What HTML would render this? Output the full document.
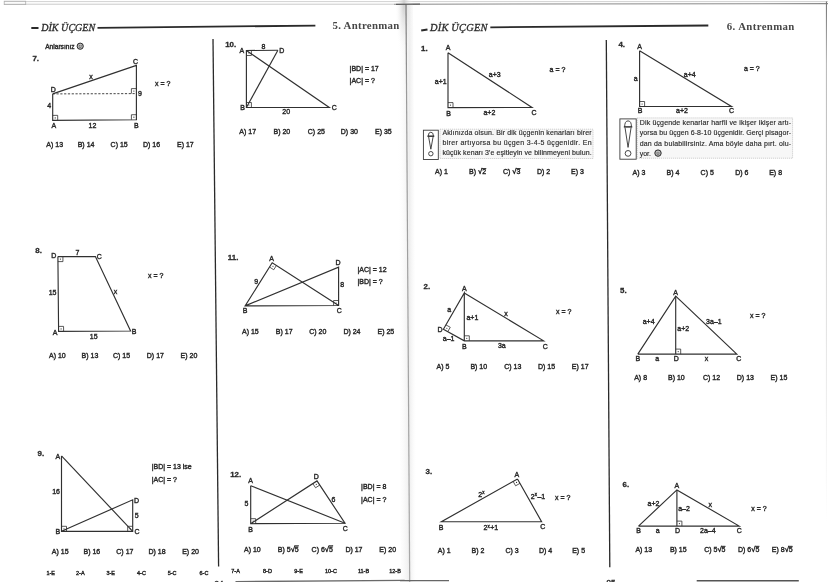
<!DOCTYPE html>
<html><head><meta charset="utf-8"><title>Dik Üçgen</title>
<style>
html,body{margin:0;padding:0;background:#fff;}
body{width:828px;height:582px;overflow:hidden;}
svg{display:block;filter:blur(0.3px);}
text{white-space:pre;}
</style></head>
<body>
<svg width="828" height="582" viewBox="0 0 828 582">
<rect x="0" y="0" width="828" height="582" fill="#ffffff"/>
<line x1="4" y1="1.6" x2="828" y2="1.6" stroke="#d2d2d2" stroke-width="1.0" />
<line x1="4" y1="4.2" x2="394" y2="4.2" stroke="#c4c4c4" stroke-width="0.9" />
<line x1="394" y1="4.2" x2="828" y2="3.6" stroke="#8a8a8a" stroke-width="1.1" />
<rect x="4.2" y="1.2" width="21.5" height="3.4" fill="none" stroke="#b0b0b0" stroke-width="0.8"/>
<defs><linearGradient id="fold" x1="0" x2="1" y1="0" y2="0"><stop offset="0" stop-color="#ffffff" stop-opacity="0"/><stop offset="0.62" stop-color="#ededed" stop-opacity="1"/><stop offset="1" stop-color="#ffffff" stop-opacity="0"/></linearGradient><linearGradient id="foldtop" x1="0" x2="0" y1="0" y2="1"><stop offset="0" stop-color="#cfcfcf" stop-opacity="1"/><stop offset="1" stop-color="#ffffff" stop-opacity="0"/></linearGradient></defs>
<polygon points="397,4 413,4 417,582 401,582" fill="url(#fold)"/>
<defs><radialGradient id="foldrad" cx="0.5" cy="0.5" r="0.5"><stop offset="0" stop-color="#c8c8c8" stop-opacity="0.9"/><stop offset="1" stop-color="#ffffff" stop-opacity="0"/></radialGradient><linearGradient id="foldline" x1="0" x2="0" y1="0" y2="1"><stop offset="0" stop-color="#777"/><stop offset="0.15" stop-color="#9a9a9a"/><stop offset="1" stop-color="#a8a8a8"/></linearGradient></defs>
<ellipse cx="404" cy="4" rx="9" ry="55" fill="url(#foldrad)"/>
<polygon points="405.4,4 406.6,4 410.3,582 409.1,582" fill="url(#foldline)"/>
<line x1="396" y1="4.3" x2="420" y2="4.1" stroke="#606060" stroke-width="1.3" />
<defs><linearGradient id="redge" x1="0" x2="0" y1="0" y2="1"><stop offset="0" stop-color="#777"/><stop offset="0.12" stop-color="#bbb"/><stop offset="0.6" stop-color="#e2e2e2"/><stop offset="1" stop-color="#fff"/></linearGradient></defs>
<rect x="825.9" y="1.5" width="1.1" height="520" fill="url(#redge)"/>
<line x1="31.3" y1="28" x2="38.5" y2="27.9" stroke="#2a2a2a" stroke-width="2" />
<text x="41.2" y="30.70" font-family="Liberation Serif" font-size="10" font-weight="normal" font-style="italic" text-anchor="start" fill="#2e2e2e" letter-spacing="0.05" stroke="#2e2e2e" stroke-width="0.32">DİK ÜÇGEN</text>
<line x1="97.5" y1="27.9" x2="315.4" y2="25.6" stroke="#2a2a2a" stroke-width="1.8" />
<text x="332.5" y="29.40" font-family="Liberation Serif" font-size="10.8" font-weight="bold" font-style="normal" text-anchor="start" fill="#474747" letter-spacing="0.3">5. Antrenman</text>
<line x1="421.2" y1="30.6" x2="427.5" y2="29.4" stroke="#2a2a2a" stroke-width="2" />
<text x="430.0" y="30.80" font-family="Liberation Serif" font-size="10.4" font-weight="normal" font-style="italic" text-anchor="start" fill="#2e2e2e" letter-spacing="0.22" stroke="#2e2e2e" stroke-width="0.32">DİK ÜÇGEN</text>
<line x1="490.3" y1="27.3" x2="708.3" y2="25.5" stroke="#2a2a2a" stroke-width="1.8" />
<text x="726.8" y="29.60" font-family="Liberation Serif" font-size="10.8" font-weight="bold" font-style="normal" text-anchor="start" fill="#474747" letter-spacing="0.38">6. Antrenman</text>
<line x1="213" y1="39" x2="218.6" y2="566.5" stroke="#2a2a2a" stroke-width="1.3" />
<line x1="606.3" y1="40" x2="609.8" y2="567.3" stroke="#2a2a2a" stroke-width="1.3" />
<line x1="235.5" y1="581.6" x2="404.6" y2="580.4" stroke="#6a6a6a" stroke-width="1.4" />
<line x1="400" y1="580.7" x2="449" y2="580.7" stroke="#666" stroke-width="1.2" />
<line x1="696.7" y1="580.7" x2="798.8" y2="580.7" stroke="#555" stroke-width="1.5" />
<text x="45.2" y="48.98" font-family="Liberation Sans" font-size="6.6" font-weight="normal" font-style="normal" text-anchor="start" fill="#2a2a2a" stroke="#2a2a2a" stroke-width="0.4">Anlarsınız</text>
<circle cx="80.2" cy="46.2" r="3.1" fill="#bbb" stroke="#2a2a2a" stroke-width="1.0"/>
<circle cx="79.3" cy="45.5" r="0.45" fill="#2a2a2a"/><circle cx="81.10000000000001" cy="45.5" r="0.45" fill="#2a2a2a"/>
<path d="M78.8,46.800000000000004 q1.4,1.3 2.8,0" fill="none" stroke="#2a2a2a" stroke-width="0.6"/>
<text x="32.4" y="61.34" font-family="Liberation Sans" font-size="7.9" font-weight="bold" font-style="normal" text-anchor="start" fill="#2a2a2a" stroke="#2a2a2a" stroke-width="0.3">7.</text>
<polyline points="52.7,93.9 52.7,120.4 136.4,119.7 136.4,65.4 52.7,93.9" fill="none" stroke="#303030" stroke-width="1.15" stroke-linejoin="miter"/>
<line x1="52.7" y1="93.9" x2="136.4" y2="93.6" stroke="#303030" stroke-width="0.9" stroke-dasharray="2.2,1.6"/>
<polyline points="52.7,115.4 57.69982515130651,115.35818545273699 57.69982515130651,120.35818545273699" fill="none" stroke="#303030" stroke-width="0.8" stroke-linejoin="miter"/>
<circle cx="55.20" cy="117.88" r="0.6" fill="#303030"/>
<polyline points="131.4001748486935,119.74181454726302 131.4001748486935,114.74181454726302 136.4,114.7" fill="none" stroke="#303030" stroke-width="0.8" stroke-linejoin="miter"/>
<circle cx="133.90" cy="117.22" r="0.6" fill="#303030"/>
<polyline points="131.40003211644137,93.61792103184071 131.40003211644137,88.61792103184071 136.4,88.6" fill="none" stroke="#303030" stroke-width="0.8" stroke-linejoin="miter"/>
<circle cx="133.90" cy="91.11" r="0.6" fill="#303030"/>
<text x="135.5" y="63.82" font-family="Liberation Sans" font-size="7" font-weight="normal" font-style="normal" text-anchor="middle" fill="#2a2a2a" stroke="#2a2a2a" stroke-width="0.4">C</text>
<text x="53.2" y="92.02" font-family="Liberation Sans" font-size="7" font-weight="normal" font-style="normal" text-anchor="middle" fill="#2a2a2a" stroke="#2a2a2a" stroke-width="0.4">D</text>
<text x="53.8" y="127.52" font-family="Liberation Sans" font-size="7" font-weight="normal" font-style="normal" text-anchor="middle" fill="#2a2a2a" stroke="#2a2a2a" stroke-width="0.4">A</text>
<text x="136.4" y="127.52" font-family="Liberation Sans" font-size="7" font-weight="normal" font-style="normal" text-anchor="middle" fill="#2a2a2a" stroke="#2a2a2a" stroke-width="0.4">B</text>
<text x="92.5" y="127.52" font-family="Liberation Sans" font-size="7" font-weight="normal" font-style="normal" text-anchor="middle" fill="#2a2a2a" stroke="#2a2a2a" stroke-width="0.4">12</text>
<text x="49.1" y="108.12" font-family="Liberation Sans" font-size="7" font-weight="normal" font-style="normal" text-anchor="middle" fill="#2a2a2a" stroke="#2a2a2a" stroke-width="0.4">4</text>
<text x="140" y="95.52" font-family="Liberation Sans" font-size="7" font-weight="normal" font-style="normal" text-anchor="middle" fill="#2a2a2a" stroke="#2a2a2a" stroke-width="0.4">9</text>
<text x="91" y="78.52" font-family="Liberation Sans" font-size="7" font-weight="normal" font-style="normal" text-anchor="middle" fill="#2a2a2a" stroke="#2a2a2a" stroke-width="0.4">x</text>
<text x="155" y="85.72" font-family="Liberation Sans" font-size="7" font-weight="normal" font-style="normal" text-anchor="start" fill="#2a2a2a" stroke="#2a2a2a" stroke-width="0.4">x = ?</text>
<text x="46.3" y="146.82" font-family="Liberation Sans" font-size="7" font-weight="normal" font-style="normal" text-anchor="start" fill="#2a2a2a" stroke="#2a2a2a" stroke-width="0.4">A) 13</text>
<text x="77.7" y="146.82" font-family="Liberation Sans" font-size="7" font-weight="normal" font-style="normal" text-anchor="start" fill="#2a2a2a" stroke="#2a2a2a" stroke-width="0.4">B) 14</text>
<text x="110.6" y="146.82" font-family="Liberation Sans" font-size="7" font-weight="normal" font-style="normal" text-anchor="start" fill="#2a2a2a" stroke="#2a2a2a" stroke-width="0.4">C) 15</text>
<text x="143" y="146.82" font-family="Liberation Sans" font-size="7" font-weight="normal" font-style="normal" text-anchor="start" fill="#2a2a2a" stroke="#2a2a2a" stroke-width="0.4">D) 16</text>
<text x="177" y="146.82" font-family="Liberation Sans" font-size="7" font-weight="normal" font-style="normal" text-anchor="start" fill="#2a2a2a" stroke="#2a2a2a" stroke-width="0.4">E) 17</text>
<text x="35.3" y="252.64" font-family="Liberation Sans" font-size="7.9" font-weight="bold" font-style="normal" text-anchor="start" fill="#2a2a2a" stroke="#2a2a2a" stroke-width="0.3">8.</text>
<polyline points="57.9,256.6 95.4,256.6 130.6,331 58.6,331.4 57.9,256.6" fill="none" stroke="#303030" stroke-width="1.15" stroke-linejoin="miter"/>
<polyline points="57.94678939504439,261.59978107045816 62.94678939504439,261.59978107045816 62.9,256.6" fill="none" stroke="#303030" stroke-width="0.8" stroke-linejoin="miter"/>
<circle cx="60.42" cy="259.10" r="0.6" fill="#303030"/>
<polyline points="58.55321060495561,326.40021892954184 63.553133446247855,326.3724415804235 63.599922841292255,331.37222265088167" fill="none" stroke="#303030" stroke-width="0.8" stroke-linejoin="miter"/>
<circle cx="61.08" cy="328.89" r="0.6" fill="#303030"/>
<text x="53.8" y="257.92" font-family="Liberation Sans" font-size="7" font-weight="normal" font-style="normal" text-anchor="middle" fill="#2a2a2a" stroke="#2a2a2a" stroke-width="0.4">D</text>
<text x="77.5" y="255.02" font-family="Liberation Sans" font-size="7" font-weight="normal" font-style="normal" text-anchor="middle" fill="#2a2a2a" stroke="#2a2a2a" stroke-width="0.4">7</text>
<text x="99.2" y="258.52" font-family="Liberation Sans" font-size="7" font-weight="normal" font-style="normal" text-anchor="middle" fill="#2a2a2a" stroke="#2a2a2a" stroke-width="0.4">C</text>
<text x="52.6" y="294.82" font-family="Liberation Sans" font-size="7" font-weight="normal" font-style="normal" text-anchor="middle" fill="#2a2a2a" stroke="#2a2a2a" stroke-width="0.4">15</text>
<text x="115.4" y="294.12" font-family="Liberation Sans" font-size="7" font-weight="normal" font-style="normal" text-anchor="middle" fill="#2a2a2a" stroke="#2a2a2a" stroke-width="0.4">x</text>
<text x="55" y="334.52" font-family="Liberation Sans" font-size="7" font-weight="normal" font-style="normal" text-anchor="middle" fill="#2a2a2a" stroke="#2a2a2a" stroke-width="0.4">A</text>
<text x="134" y="333.92" font-family="Liberation Sans" font-size="7" font-weight="normal" font-style="normal" text-anchor="middle" fill="#2a2a2a" stroke="#2a2a2a" stroke-width="0.4">B</text>
<text x="93.7" y="338.82" font-family="Liberation Sans" font-size="7" font-weight="normal" font-style="normal" text-anchor="middle" fill="#2a2a2a" stroke="#2a2a2a" stroke-width="0.4">15</text>
<text x="148" y="277.72" font-family="Liberation Sans" font-size="7" font-weight="normal" font-style="normal" text-anchor="start" fill="#2a2a2a" stroke="#2a2a2a" stroke-width="0.4">x = ?</text>
<text x="49" y="357.62" font-family="Liberation Sans" font-size="7" font-weight="normal" font-style="normal" text-anchor="start" fill="#2a2a2a" stroke="#2a2a2a" stroke-width="0.4">A) 10</text>
<text x="81.6" y="357.62" font-family="Liberation Sans" font-size="7" font-weight="normal" font-style="normal" text-anchor="start" fill="#2a2a2a" stroke="#2a2a2a" stroke-width="0.4">B) 13</text>
<text x="113" y="357.62" font-family="Liberation Sans" font-size="7" font-weight="normal" font-style="normal" text-anchor="start" fill="#2a2a2a" stroke="#2a2a2a" stroke-width="0.4">C) 15</text>
<text x="146.8" y="357.62" font-family="Liberation Sans" font-size="7" font-weight="normal" font-style="normal" text-anchor="start" fill="#2a2a2a" stroke="#2a2a2a" stroke-width="0.4">D) 17</text>
<text x="180.6" y="357.62" font-family="Liberation Sans" font-size="7" font-weight="normal" font-style="normal" text-anchor="start" fill="#2a2a2a" stroke="#2a2a2a" stroke-width="0.4">E) 20</text>
<text x="37.6" y="456.24" font-family="Liberation Sans" font-size="7.9" font-weight="bold" font-style="normal" text-anchor="start" fill="#2a2a2a" stroke="#2a2a2a" stroke-width="0.3">9.</text>
<polyline points="61.5,455.9 61.5,531.3 132.7,531.3 132.7,499.8 61.5,531.3" fill="none" stroke="#303030" stroke-width="1.15" stroke-linejoin="miter"/>
<line x1="61.5" y1="455.9" x2="132.7" y2="531.3" stroke="#303030" stroke-width="1.15" />
<polyline points="61.5,526.3 66.5,526.3 66.5,531.3" fill="none" stroke="#303030" stroke-width="0.8" stroke-linejoin="miter"/>
<circle cx="64.00" cy="528.80" r="0.6" fill="#303030"/>
<polyline points="132.7,526.3 127.69999999999999,526.3 127.69999999999999,531.3" fill="none" stroke="#303030" stroke-width="0.8" stroke-linejoin="miter"/>
<circle cx="130.20" cy="528.80" r="0.6" fill="#303030"/>
<text x="57.8" y="459.12" font-family="Liberation Sans" font-size="7" font-weight="normal" font-style="normal" text-anchor="middle" fill="#2a2a2a" stroke="#2a2a2a" stroke-width="0.4">A</text>
<text x="56.1" y="493.72" font-family="Liberation Sans" font-size="7" font-weight="normal" font-style="normal" text-anchor="middle" fill="#2a2a2a" stroke="#2a2a2a" stroke-width="0.4">16</text>
<text x="136.6" y="503.02" font-family="Liberation Sans" font-size="7" font-weight="normal" font-style="normal" text-anchor="middle" fill="#2a2a2a" stroke="#2a2a2a" stroke-width="0.4">D</text>
<text x="136.6" y="517.62" font-family="Liberation Sans" font-size="7" font-weight="normal" font-style="normal" text-anchor="middle" fill="#2a2a2a" stroke="#2a2a2a" stroke-width="0.4">5</text>
<text x="57.8" y="534.02" font-family="Liberation Sans" font-size="7" font-weight="normal" font-style="normal" text-anchor="middle" fill="#2a2a2a" stroke="#2a2a2a" stroke-width="0.4">B</text>
<text x="137" y="534.02" font-family="Liberation Sans" font-size="7" font-weight="normal" font-style="normal" text-anchor="middle" fill="#2a2a2a" stroke="#2a2a2a" stroke-width="0.4">C</text>
<text x="151.7" y="468.92" font-family="Liberation Sans" font-size="7" font-weight="normal" font-style="normal" text-anchor="start" fill="#2a2a2a" stroke="#2a2a2a" stroke-width="0.4">|BD| = 13 ise</text>
<text x="151.7" y="481.52" font-family="Liberation Sans" font-size="7" font-weight="normal" font-style="normal" text-anchor="start" fill="#2a2a2a" stroke="#2a2a2a" stroke-width="0.4">|AC| = ?</text>
<text x="51.8" y="554.22" font-family="Liberation Sans" font-size="7" font-weight="normal" font-style="normal" text-anchor="start" fill="#2a2a2a" stroke="#2a2a2a" stroke-width="0.4">A) 15</text>
<text x="83.5" y="554.22" font-family="Liberation Sans" font-size="7" font-weight="normal" font-style="normal" text-anchor="start" fill="#2a2a2a" stroke="#2a2a2a" stroke-width="0.4">B) 16</text>
<text x="116.3" y="554.22" font-family="Liberation Sans" font-size="7" font-weight="normal" font-style="normal" text-anchor="start" fill="#2a2a2a" stroke="#2a2a2a" stroke-width="0.4">C) 17</text>
<text x="148.5" y="554.22" font-family="Liberation Sans" font-size="7" font-weight="normal" font-style="normal" text-anchor="start" fill="#2a2a2a" stroke="#2a2a2a" stroke-width="0.4">D) 18</text>
<text x="182.2" y="554.22" font-family="Liberation Sans" font-size="7" font-weight="normal" font-style="normal" text-anchor="start" fill="#2a2a2a" stroke="#2a2a2a" stroke-width="0.4">E) 20</text>
<text x="46.4" y="574.88" font-family="Liberation Sans" font-size="5.5" font-weight="normal" font-style="normal" text-anchor="start" fill="#2a2a2a" stroke="#2a2a2a" stroke-width="0.4">1-E</text>
<text x="76" y="574.88" font-family="Liberation Sans" font-size="5.5" font-weight="normal" font-style="normal" text-anchor="start" fill="#2a2a2a" stroke="#2a2a2a" stroke-width="0.4">2-A</text>
<text x="106.4" y="574.88" font-family="Liberation Sans" font-size="5.5" font-weight="normal" font-style="normal" text-anchor="start" fill="#2a2a2a" stroke="#2a2a2a" stroke-width="0.4">3-E</text>
<text x="137" y="574.88" font-family="Liberation Sans" font-size="5.5" font-weight="normal" font-style="normal" text-anchor="start" fill="#2a2a2a" stroke="#2a2a2a" stroke-width="0.4">4-C</text>
<text x="167.7" y="574.88" font-family="Liberation Sans" font-size="5.5" font-weight="normal" font-style="normal" text-anchor="start" fill="#2a2a2a" stroke="#2a2a2a" stroke-width="0.4">5-C</text>
<text x="199.5" y="574.88" font-family="Liberation Sans" font-size="5.5" font-weight="normal" font-style="normal" text-anchor="start" fill="#2a2a2a" stroke="#2a2a2a" stroke-width="0.4">6-C</text>
<text x="225.2" y="46.64" font-family="Liberation Sans" font-size="7.9" font-weight="bold" font-style="normal" text-anchor="start" fill="#2a2a2a" stroke="#2a2a2a" stroke-width="0.3">10.</text>
<polyline points="277.9,50.3 246.4,50.5 246.4,107.5 329.3,107.5 246.4,50.5" fill="none" stroke="#303030" stroke-width="1.15" stroke-linejoin="miter"/>
<line x1="246.4" y1="107.5" x2="277.9" y2="50.3" stroke="#303030" stroke-width="1.15" />
<polyline points="246.4,55.5 251.3998992219938,55.46825460811432 251.3998992219938,50.46825460811432" fill="none" stroke="#303030" stroke-width="0.8" stroke-linejoin="miter"/>
<circle cx="248.90" cy="52.98" r="0.6" fill="#303030"/>
<polyline points="246.4,102.5 251.4,102.5 251.4,107.5" fill="none" stroke="#303030" stroke-width="0.8" stroke-linejoin="miter"/>
<circle cx="248.90" cy="105.00" r="0.6" fill="#303030"/>
<text x="263.4" y="48.52" font-family="Liberation Sans" font-size="7" font-weight="normal" font-style="normal" text-anchor="middle" fill="#2a2a2a" stroke="#2a2a2a" stroke-width="0.4">8</text>
<text x="281.7" y="52.52" font-family="Liberation Sans" font-size="7" font-weight="normal" font-style="normal" text-anchor="middle" fill="#2a2a2a" stroke="#2a2a2a" stroke-width="0.4">D</text>
<text x="241.8" y="52.92" font-family="Liberation Sans" font-size="7" font-weight="normal" font-style="normal" text-anchor="middle" fill="#2a2a2a" stroke="#2a2a2a" stroke-width="0.4">A</text>
<text x="242.6" y="110.02" font-family="Liberation Sans" font-size="7" font-weight="normal" font-style="normal" text-anchor="middle" fill="#2a2a2a" stroke="#2a2a2a" stroke-width="0.4">B</text>
<text x="334.4" y="110.02" font-family="Liberation Sans" font-size="7" font-weight="normal" font-style="normal" text-anchor="middle" fill="#2a2a2a" stroke="#2a2a2a" stroke-width="0.4">C</text>
<text x="286.2" y="114.32" font-family="Liberation Sans" font-size="7" font-weight="normal" font-style="normal" text-anchor="middle" fill="#2a2a2a" stroke="#2a2a2a" stroke-width="0.4">20</text>
<text x="349.6" y="70.72" font-family="Liberation Sans" font-size="7" font-weight="normal" font-style="normal" text-anchor="start" fill="#2a2a2a" stroke="#2a2a2a" stroke-width="0.4">|BD| = 17</text>
<text x="349.6" y="83.42" font-family="Liberation Sans" font-size="7" font-weight="normal" font-style="normal" text-anchor="start" fill="#2a2a2a" stroke="#2a2a2a" stroke-width="0.4">|AC| = ?</text>
<text x="239.3" y="134.12" font-family="Liberation Sans" font-size="7" font-weight="normal" font-style="normal" text-anchor="start" fill="#2a2a2a" stroke="#2a2a2a" stroke-width="0.4">A) 17</text>
<text x="273.5" y="134.12" font-family="Liberation Sans" font-size="7" font-weight="normal" font-style="normal" text-anchor="start" fill="#2a2a2a" stroke="#2a2a2a" stroke-width="0.4">B) 20</text>
<text x="307.8" y="134.12" font-family="Liberation Sans" font-size="7" font-weight="normal" font-style="normal" text-anchor="start" fill="#2a2a2a" stroke="#2a2a2a" stroke-width="0.4">C) 25</text>
<text x="340.8" y="134.12" font-family="Liberation Sans" font-size="7" font-weight="normal" font-style="normal" text-anchor="start" fill="#2a2a2a" stroke="#2a2a2a" stroke-width="0.4">D) 30</text>
<text x="375" y="134.12" font-family="Liberation Sans" font-size="7" font-weight="normal" font-style="normal" text-anchor="start" fill="#2a2a2a" stroke="#2a2a2a" stroke-width="0.4">E) 35</text>
<text x="227.8" y="259.94" font-family="Liberation Sans" font-size="7.9" font-weight="bold" font-style="normal" text-anchor="start" fill="#2a2a2a" stroke="#2a2a2a" stroke-width="0.3">11.</text>
<polyline points="338.6,305.5 272.2,262.8 245.1,305.9 338.6,305.5 338.6,267.1 245.1,305.9" fill="none" stroke="#303030" stroke-width="1.15" stroke-linejoin="miter"/>
<polyline points="269.53853891099675,267.03280342937416 273.74401967237867,269.73723156960017 276.4054807613819,265.504428140226" fill="none" stroke="#303030" stroke-width="0.8" stroke-linejoin="miter"/>
<circle cx="272.97" cy="266.27" r="0.6" fill="#303030"/>
<polyline points="333.6000457541834,305.52139017859173 333.6000457541834,300.52139017859173 338.6,300.5" fill="none" stroke="#303030" stroke-width="0.8" stroke-linejoin="miter"/>
<circle cx="336.10" cy="303.01" r="0.6" fill="#303030"/>
<text x="271.5" y="260.92" font-family="Liberation Sans" font-size="7" font-weight="normal" font-style="normal" text-anchor="middle" fill="#2a2a2a" stroke="#2a2a2a" stroke-width="0.4">A</text>
<text x="338" y="264.92" font-family="Liberation Sans" font-size="7" font-weight="normal" font-style="normal" text-anchor="middle" fill="#2a2a2a" stroke="#2a2a2a" stroke-width="0.4">D</text>
<text x="256.2" y="283.72" font-family="Liberation Sans" font-size="7" font-weight="normal" font-style="normal" text-anchor="middle" fill="#2a2a2a" stroke="#2a2a2a" stroke-width="0.4">9</text>
<text x="342.2" y="287.22" font-family="Liberation Sans" font-size="7" font-weight="normal" font-style="normal" text-anchor="middle" fill="#2a2a2a" stroke="#2a2a2a" stroke-width="0.4">8</text>
<text x="245.1" y="313.22" font-family="Liberation Sans" font-size="7" font-weight="normal" font-style="normal" text-anchor="middle" fill="#2a2a2a" stroke="#2a2a2a" stroke-width="0.4">B</text>
<text x="339.4" y="312.72" font-family="Liberation Sans" font-size="7" font-weight="normal" font-style="normal" text-anchor="middle" fill="#2a2a2a" stroke="#2a2a2a" stroke-width="0.4">C</text>
<text x="357.5" y="271.52" font-family="Liberation Sans" font-size="7" font-weight="normal" font-style="normal" text-anchor="start" fill="#2a2a2a" stroke="#2a2a2a" stroke-width="0.4">|AC| = 12</text>
<text x="357.5" y="284.42" font-family="Liberation Sans" font-size="7" font-weight="normal" font-style="normal" text-anchor="start" fill="#2a2a2a" stroke="#2a2a2a" stroke-width="0.4">|BD| = ?</text>
<text x="242" y="334.32" font-family="Liberation Sans" font-size="7" font-weight="normal" font-style="normal" text-anchor="start" fill="#2a2a2a" stroke="#2a2a2a" stroke-width="0.4">A) 15</text>
<text x="275.8" y="334.32" font-family="Liberation Sans" font-size="7" font-weight="normal" font-style="normal" text-anchor="start" fill="#2a2a2a" stroke="#2a2a2a" stroke-width="0.4">B) 17</text>
<text x="309.2" y="334.32" font-family="Liberation Sans" font-size="7" font-weight="normal" font-style="normal" text-anchor="start" fill="#2a2a2a" stroke="#2a2a2a" stroke-width="0.4">C) 20</text>
<text x="343.4" y="334.32" font-family="Liberation Sans" font-size="7" font-weight="normal" font-style="normal" text-anchor="start" fill="#2a2a2a" stroke="#2a2a2a" stroke-width="0.4">D) 24</text>
<text x="377.5" y="334.32" font-family="Liberation Sans" font-size="7" font-weight="normal" font-style="normal" text-anchor="start" fill="#2a2a2a" stroke="#2a2a2a" stroke-width="0.4">E) 25</text>
<text x="230.2" y="477.04" font-family="Liberation Sans" font-size="7.9" font-weight="bold" font-style="normal" text-anchor="start" fill="#2a2a2a" stroke="#2a2a2a" stroke-width="0.3">12.</text>
<polyline points="250.7,485.7 250.7,523.7 345,523.2 317,480.9 250.7,523.7" fill="none" stroke="#303030" stroke-width="1.15" stroke-linejoin="miter"/>
<line x1="250.7" y1="485.7" x2="345" y2="523.2" stroke="#303030" stroke-width="1.15" />
<polyline points="250.7,518.7 255.69992971745572,518.6734892379775 255.69992971745572,523.6734892379775" fill="none" stroke="#303030" stroke-width="0.8" stroke-linejoin="miter"/>
<circle cx="253.20" cy="521.19" r="0.6" fill="#303030"/>
<polyline points="312.79926177629704,483.6117887778957 315.5591002809051,487.7811162330715 319.75983850460807,485.06932745517577" fill="none" stroke="#303030" stroke-width="0.8" stroke-linejoin="miter"/>
<circle cx="316.28" cy="484.34" r="0.6" fill="#303030"/>
<text x="250.7" y="483.42" font-family="Liberation Sans" font-size="7" font-weight="normal" font-style="normal" text-anchor="middle" fill="#2a2a2a" stroke="#2a2a2a" stroke-width="0.4">A</text>
<text x="316.4" y="478.62" font-family="Liberation Sans" font-size="7" font-weight="normal" font-style="normal" text-anchor="middle" fill="#2a2a2a" stroke="#2a2a2a" stroke-width="0.4">D</text>
<text x="246.4" y="505.62" font-family="Liberation Sans" font-size="7" font-weight="normal" font-style="normal" text-anchor="middle" fill="#2a2a2a" stroke="#2a2a2a" stroke-width="0.4">5</text>
<text x="333.4" y="502.02" font-family="Liberation Sans" font-size="7" font-weight="normal" font-style="normal" text-anchor="middle" fill="#2a2a2a" stroke="#2a2a2a" stroke-width="0.4">6</text>
<text x="250.7" y="531.72" font-family="Liberation Sans" font-size="7" font-weight="normal" font-style="normal" text-anchor="middle" fill="#2a2a2a" stroke="#2a2a2a" stroke-width="0.4">B</text>
<text x="345.4" y="531.02" font-family="Liberation Sans" font-size="7" font-weight="normal" font-style="normal" text-anchor="middle" fill="#2a2a2a" stroke="#2a2a2a" stroke-width="0.4">C</text>
<text x="361.1" y="488.72" font-family="Liberation Sans" font-size="7" font-weight="normal" font-style="normal" text-anchor="start" fill="#2a2a2a" stroke="#2a2a2a" stroke-width="0.4">|BD| = 8</text>
<text x="361.1" y="502.02" font-family="Liberation Sans" font-size="7" font-weight="normal" font-style="normal" text-anchor="start" fill="#2a2a2a" stroke="#2a2a2a" stroke-width="0.4">|AC| = ?</text>
<text x="244" y="551.52" font-family="Liberation Sans" font-size="7" font-weight="normal" font-style="normal" text-anchor="start" fill="#2a2a2a" stroke="#2a2a2a" stroke-width="0.4">A) 10</text>
<text x="277.8" y="551.52" font-family="Liberation Sans" font-size="7" font-weight="normal" font-style="normal" text-anchor="start" fill="#2a2a2a" stroke="#2a2a2a" stroke-width="0.4">B) 5<tspan font-size="7.6">&#8730;</tspan><tspan text-decoration="overline">5</tspan></text>
<text x="311.6" y="551.52" font-family="Liberation Sans" font-size="7" font-weight="normal" font-style="normal" text-anchor="start" fill="#2a2a2a" stroke="#2a2a2a" stroke-width="0.4">C) 6<tspan font-size="7.6">&#8730;</tspan><tspan text-decoration="overline">5</tspan></text>
<text x="345.4" y="551.52" font-family="Liberation Sans" font-size="7" font-weight="normal" font-style="normal" text-anchor="start" fill="#2a2a2a" stroke="#2a2a2a" stroke-width="0.4">D) 17</text>
<text x="379.3" y="551.52" font-family="Liberation Sans" font-size="7" font-weight="normal" font-style="normal" text-anchor="start" fill="#2a2a2a" stroke="#2a2a2a" stroke-width="0.4">E) 20</text>
<text x="231.3" y="573.48" font-family="Liberation Sans" font-size="5.5" font-weight="normal" font-style="normal" text-anchor="start" fill="#2a2a2a" stroke="#2a2a2a" stroke-width="0.4">7-A</text>
<text x="263" y="573.48" font-family="Liberation Sans" font-size="5.5" font-weight="normal" font-style="normal" text-anchor="start" fill="#2a2a2a" stroke="#2a2a2a" stroke-width="0.4">8-D</text>
<text x="294.3" y="573.48" font-family="Liberation Sans" font-size="5.5" font-weight="normal" font-style="normal" text-anchor="start" fill="#2a2a2a" stroke="#2a2a2a" stroke-width="0.4">9-E</text>
<text x="325" y="573.48" font-family="Liberation Sans" font-size="5.5" font-weight="normal" font-style="normal" text-anchor="start" fill="#2a2a2a" stroke="#2a2a2a" stroke-width="0.4">10-C</text>
<text x="357.9" y="573.48" font-family="Liberation Sans" font-size="5.5" font-weight="normal" font-style="normal" text-anchor="start" fill="#2a2a2a" stroke="#2a2a2a" stroke-width="0.4">11-B</text>
<text x="389.2" y="573.48" font-family="Liberation Sans" font-size="5.5" font-weight="normal" font-style="normal" text-anchor="start" fill="#2a2a2a" stroke="#2a2a2a" stroke-width="0.4">12-B</text>
<text x="421" y="51.14" font-family="Liberation Sans" font-size="7.9" font-weight="bold" font-style="normal" text-anchor="start" fill="#2a2a2a" stroke="#2a2a2a" stroke-width="0.3">1.</text>
<polyline points="448,52.7 448,107.6 532,107.4 448,52.7" fill="none" stroke="#303030" stroke-width="1.15" stroke-linejoin="miter"/>
<polyline points="448.0,102.6 452.99998582772463,102.58809527183874 452.99998582772463,107.58809527183874" fill="none" stroke="#303030" stroke-width="0.8" stroke-linejoin="miter"/>
<circle cx="450.50" cy="105.09" r="0.6" fill="#303030"/>
<text x="448" y="50.22" font-family="Liberation Sans" font-size="7" font-weight="normal" font-style="normal" text-anchor="middle" fill="#2a2a2a" stroke="#2a2a2a" stroke-width="0.4">A</text>
<text x="440.7" y="84.42" font-family="Liberation Sans" font-size="7" font-weight="normal" font-style="normal" text-anchor="middle" fill="#2a2a2a" stroke="#2a2a2a" stroke-width="0.4">a+1</text>
<text x="494.7" y="77.42" font-family="Liberation Sans" font-size="7" font-weight="normal" font-style="normal" text-anchor="middle" fill="#2a2a2a" stroke="#2a2a2a" stroke-width="0.4">a+3</text>
<text x="448.6" y="115.92" font-family="Liberation Sans" font-size="7" font-weight="normal" font-style="normal" text-anchor="middle" fill="#2a2a2a" stroke="#2a2a2a" stroke-width="0.4">B</text>
<text x="489.4" y="115.42" font-family="Liberation Sans" font-size="7" font-weight="normal" font-style="normal" text-anchor="middle" fill="#2a2a2a" stroke="#2a2a2a" stroke-width="0.4">a+2</text>
<text x="534.1" y="115.42" font-family="Liberation Sans" font-size="7" font-weight="normal" font-style="normal" text-anchor="middle" fill="#2a2a2a" stroke="#2a2a2a" stroke-width="0.4">C</text>
<text x="549.6" y="72.12" font-family="Liberation Sans" font-size="7" font-weight="normal" font-style="normal" text-anchor="start" fill="#2a2a2a" stroke="#2a2a2a" stroke-width="0.4">a = ?</text>
<rect x="440" y="129.2" width="153" height="29.30000000000001" fill="#f7f7f7" stroke="#c4c4c4" stroke-width="0.8" stroke-dasharray="1.2,0.8"/>
<rect x="423.4" y="130.2" width="14.900000000000034" height="29.30000000000001" fill="#fff" stroke="#3a3a3a" stroke-width="0.9"/>
<path d="M428.25,136.2 Q428.25,132.2 430.85,132.2 Q433.45000000000005,132.2 433.45000000000005,136.2" fill="none" stroke="#333" stroke-width="0.9"/>
<path d="M427.45,136.2 L434.25000000000006,136.2" stroke="#333" stroke-width="1.5"/>
<path d="M428.65,137.0 L430.85,149.2 L433.05000000000007,137.0" fill="none" stroke="#333" stroke-width="0.9"/>
<circle cx="430.85" cy="153.7" r="2.21" fill="none" stroke="#333" stroke-width="0.9"/>
<text x="442.4" y="134.7" font-family="Liberation Sans" font-size="7" fill="#2a2a2a" stroke="#2a2a2a" stroke-width="0.15" textLength="149.2" lengthAdjust="spacing">Aklınızda olsun. Bir dik üçgenin kenarları birer</text>
<text x="442.4" y="144.8" font-family="Liberation Sans" font-size="7" fill="#2a2a2a" stroke="#2a2a2a" stroke-width="0.15" textLength="149.2" lengthAdjust="spacing">birer artıyorsa bu üçgen 3-4-5 üçgenidir. En</text>
<text x="442.4" y="154.6" font-family="Liberation Sans" font-size="7" fill="#2a2a2a" stroke="#2a2a2a" stroke-width="0.15" textLength="149.2" lengthAdjust="spacing">küçük kenarı 3'e eşitleyin ve bilinmeyeni bulun.</text>
<text x="435" y="174.22" font-family="Liberation Sans" font-size="7" font-weight="normal" font-style="normal" text-anchor="start" fill="#2a2a2a" stroke="#2a2a2a" stroke-width="0.4">A) 1</text>
<text x="469" y="174.22" font-family="Liberation Sans" font-size="7" font-weight="normal" font-style="normal" text-anchor="start" fill="#2a2a2a" stroke="#2a2a2a" stroke-width="0.4">B) <tspan font-size="7.6">&#8730;</tspan><tspan text-decoration="overline">2</tspan></text>
<text x="503" y="174.22" font-family="Liberation Sans" font-size="7" font-weight="normal" font-style="normal" text-anchor="start" fill="#2a2a2a" stroke="#2a2a2a" stroke-width="0.4">C) <tspan font-size="7.6">&#8730;</tspan><tspan text-decoration="overline">3</tspan></text>
<text x="537" y="174.22" font-family="Liberation Sans" font-size="7" font-weight="normal" font-style="normal" text-anchor="start" fill="#2a2a2a" stroke="#2a2a2a" stroke-width="0.4">D) 2</text>
<text x="571" y="174.22" font-family="Liberation Sans" font-size="7" font-weight="normal" font-style="normal" text-anchor="start" fill="#2a2a2a" stroke="#2a2a2a" stroke-width="0.4">E) 3</text>
<text x="618.4" y="46.84" font-family="Liberation Sans" font-size="7.9" font-weight="bold" font-style="normal" text-anchor="start" fill="#2a2a2a" stroke="#2a2a2a" stroke-width="0.3">4.</text>
<polyline points="639.6,50.8 639.6,106.5 731.5,106.5 639.6,50.8" fill="none" stroke="#303030" stroke-width="1.15" stroke-linejoin="miter"/>
<polyline points="639.6,101.5 644.6,101.5 644.6,106.5" fill="none" stroke="#303030" stroke-width="0.8" stroke-linejoin="miter"/>
<circle cx="642.10" cy="104.00" r="0.6" fill="#303030"/>
<text x="639.6" y="48.72" font-family="Liberation Sans" font-size="7" font-weight="normal" font-style="normal" text-anchor="middle" fill="#2a2a2a" stroke="#2a2a2a" stroke-width="0.4">A</text>
<text x="635.6" y="80.52" font-family="Liberation Sans" font-size="7" font-weight="normal" font-style="normal" text-anchor="middle" fill="#2a2a2a" stroke="#2a2a2a" stroke-width="0.4">a</text>
<text x="689.7" y="76.92" font-family="Liberation Sans" font-size="7" font-weight="normal" font-style="normal" text-anchor="middle" fill="#2a2a2a" stroke="#2a2a2a" stroke-width="0.4">a+4</text>
<text x="640.2" y="113.12" font-family="Liberation Sans" font-size="7" font-weight="normal" font-style="normal" text-anchor="middle" fill="#2a2a2a" stroke="#2a2a2a" stroke-width="0.4">B</text>
<text x="682" y="113.12" font-family="Liberation Sans" font-size="7" font-weight="normal" font-style="normal" text-anchor="middle" fill="#2a2a2a" stroke="#2a2a2a" stroke-width="0.4">a+2</text>
<text x="731.5" y="113.12" font-family="Liberation Sans" font-size="7" font-weight="normal" font-style="normal" text-anchor="middle" fill="#2a2a2a" stroke="#2a2a2a" stroke-width="0.4">C</text>
<text x="743.9" y="71.32" font-family="Liberation Sans" font-size="7" font-weight="normal" font-style="normal" text-anchor="start" fill="#2a2a2a" stroke="#2a2a2a" stroke-width="0.4">a = ?</text>
<rect x="637.3" y="117.9" width="155.30000000000007" height="40.29999999999998" fill="#f7f7f7" stroke="#c4c4c4" stroke-width="0.8" stroke-dasharray="1.2,0.8"/>
<rect x="619.9" y="118.9" width="16.300000000000068" height="40.29999999999998" fill="#fff" stroke="#3a3a3a" stroke-width="0.9"/>
<path d="M624.65,126.9 Q624.65,120.9 628.05,120.9 Q631.4499999999999,120.9 631.4499999999999,126.9" fill="none" stroke="#333" stroke-width="0.9"/>
<path d="M623.85,126.9 L632.2499999999999,126.9" stroke="#333" stroke-width="1.5"/>
<path d="M625.05,127.7 L628.05,147.4 L631.05,127.7" fill="none" stroke="#333" stroke-width="0.9"/>
<circle cx="628.05" cy="153.4" r="2.8899999999999997" fill="none" stroke="#333" stroke-width="0.9"/>
<text x="639.6999999999999" y="124.8" font-family="Liberation Sans" font-size="7" fill="#2a2a2a" stroke="#2a2a2a" stroke-width="0.15" textLength="151.50000000000006" lengthAdjust="spacing">Dik üçgende kenarlar harfli ve ikişer ikişer artı-</text>
<text x="639.6999999999999" y="134.8" font-family="Liberation Sans" font-size="7" fill="#2a2a2a" stroke="#2a2a2a" stroke-width="0.15" textLength="151.50000000000006" lengthAdjust="spacing">yorsa bu üçgen 6-8-10 üçgenidir. Gerçi pisagor-</text>
<text x="639.6999999999999" y="145.5" font-family="Liberation Sans" font-size="7" fill="#2a2a2a" stroke="#2a2a2a" stroke-width="0.15" textLength="151.50000000000006" lengthAdjust="spacing">dan da bulabilirsiniz. Ama böyle daha pırt. olu-</text>
<text x="639.6999999999999" y="155.6" font-family="Liberation Sans" font-size="7" fill="#2a2a2a" stroke="#2a2a2a" stroke-width="0.15">yor.</text>
<circle cx="658" cy="153.1" r="3.2" fill="#bbb" stroke="#2a2a2a" stroke-width="1.0"/>
<circle cx="657.1" cy="152.4" r="0.45" fill="#2a2a2a"/><circle cx="658.9" cy="152.4" r="0.45" fill="#2a2a2a"/>
<path d="M656.6,153.7 q1.4,1.3 2.8,0" fill="none" stroke="#2a2a2a" stroke-width="0.6"/>
<text x="632.5" y="175.02" font-family="Liberation Sans" font-size="7" font-weight="normal" font-style="normal" text-anchor="start" fill="#2a2a2a" stroke="#2a2a2a" stroke-width="0.4">A) 3</text>
<text x="666.5" y="175.02" font-family="Liberation Sans" font-size="7" font-weight="normal" font-style="normal" text-anchor="start" fill="#2a2a2a" stroke="#2a2a2a" stroke-width="0.4">B) 4</text>
<text x="700.6" y="175.02" font-family="Liberation Sans" font-size="7" font-weight="normal" font-style="normal" text-anchor="start" fill="#2a2a2a" stroke="#2a2a2a" stroke-width="0.4">C) 5</text>
<text x="735.2" y="175.02" font-family="Liberation Sans" font-size="7" font-weight="normal" font-style="normal" text-anchor="start" fill="#2a2a2a" stroke="#2a2a2a" stroke-width="0.4">D) 6</text>
<text x="769.2" y="175.02" font-family="Liberation Sans" font-size="7" font-weight="normal" font-style="normal" text-anchor="start" fill="#2a2a2a" stroke="#2a2a2a" stroke-width="0.4">E) 8</text>
<text x="423.6" y="289.34" font-family="Liberation Sans" font-size="7.9" font-weight="bold" font-style="normal" text-anchor="start" fill="#2a2a2a" stroke="#2a2a2a" stroke-width="0.3">2.</text>
<polyline points="464.3,340.8 464.3,293 443.4,329.2 464.3,340.8 543.6,340.8 464.3,293" fill="none" stroke="#303030" stroke-width="1.15" stroke-linejoin="miter"/>
<polyline points="445.89999284589044,324.86986885065863 450.2717655436234,327.296307285764 447.77177269773296,331.62643843510534" fill="none" stroke="#303030" stroke-width="0.8" stroke-linejoin="miter"/>
<circle cx="446.84" cy="328.25" r="0.6" fill="#303030"/>
<polyline points="464.3,335.8 469.3,335.8 469.3,340.8" fill="none" stroke="#303030" stroke-width="0.8" stroke-linejoin="miter"/>
<circle cx="466.80" cy="338.30" r="0.6" fill="#303030"/>
<text x="464.3" y="290.62" font-family="Liberation Sans" font-size="7" font-weight="normal" font-style="normal" text-anchor="middle" fill="#2a2a2a" stroke="#2a2a2a" stroke-width="0.4">A</text>
<text x="449.1" y="312.42" font-family="Liberation Sans" font-size="7" font-weight="normal" font-style="normal" text-anchor="middle" fill="#2a2a2a" stroke="#2a2a2a" stroke-width="0.4">a</text>
<text x="472.4" y="319.62" font-family="Liberation Sans" font-size="7" font-weight="normal" font-style="normal" text-anchor="middle" fill="#2a2a2a" stroke="#2a2a2a" stroke-width="0.4">a+1</text>
<text x="506.1" y="315.52" font-family="Liberation Sans" font-size="7" font-weight="normal" font-style="normal" text-anchor="middle" fill="#2a2a2a" stroke="#2a2a2a" stroke-width="0.4">x</text>
<text x="440" y="332.32" font-family="Liberation Sans" font-size="7" font-weight="normal" font-style="normal" text-anchor="middle" fill="#2a2a2a" stroke="#2a2a2a" stroke-width="0.4">D</text>
<text x="448.6" y="341.32" font-family="Liberation Sans" font-size="7" font-weight="normal" font-style="normal" text-anchor="middle" fill="#2a2a2a" stroke="#2a2a2a" stroke-width="0.4">a–1</text>
<text x="464.3" y="348.62" font-family="Liberation Sans" font-size="7" font-weight="normal" font-style="normal" text-anchor="middle" fill="#2a2a2a" stroke="#2a2a2a" stroke-width="0.4">B</text>
<text x="501.8" y="347.92" font-family="Liberation Sans" font-size="7" font-weight="normal" font-style="normal" text-anchor="middle" fill="#2a2a2a" stroke="#2a2a2a" stroke-width="0.4">3a</text>
<text x="545.3" y="348.62" font-family="Liberation Sans" font-size="7" font-weight="normal" font-style="normal" text-anchor="middle" fill="#2a2a2a" stroke="#2a2a2a" stroke-width="0.4">C</text>
<text x="556" y="313.52" font-family="Liberation Sans" font-size="7" font-weight="normal" font-style="normal" text-anchor="start" fill="#2a2a2a" stroke="#2a2a2a" stroke-width="0.4">x = ?</text>
<text x="436.6" y="369.12" font-family="Liberation Sans" font-size="7" font-weight="normal" font-style="normal" text-anchor="start" fill="#2a2a2a" stroke="#2a2a2a" stroke-width="0.4">A) 5</text>
<text x="470.4" y="369.12" font-family="Liberation Sans" font-size="7" font-weight="normal" font-style="normal" text-anchor="start" fill="#2a2a2a" stroke="#2a2a2a" stroke-width="0.4">B) 10</text>
<text x="504.2" y="369.12" font-family="Liberation Sans" font-size="7" font-weight="normal" font-style="normal" text-anchor="start" fill="#2a2a2a" stroke="#2a2a2a" stroke-width="0.4">C) 13</text>
<text x="538" y="369.12" font-family="Liberation Sans" font-size="7" font-weight="normal" font-style="normal" text-anchor="start" fill="#2a2a2a" stroke="#2a2a2a" stroke-width="0.4">D) 15</text>
<text x="571.8" y="369.12" font-family="Liberation Sans" font-size="7" font-weight="normal" font-style="normal" text-anchor="start" fill="#2a2a2a" stroke="#2a2a2a" stroke-width="0.4">E) 17</text>
<text x="620" y="293.34" font-family="Liberation Sans" font-size="7.9" font-weight="bold" font-style="normal" text-anchor="start" fill="#2a2a2a" stroke="#2a2a2a" stroke-width="0.3">5.</text>
<polyline points="637.8,354.1 675.7,296.1 736.8,354.1 637.8,354.1" fill="none" stroke="#303030" stroke-width="1.15" stroke-linejoin="miter"/>
<line x1="675.7" y1="296.1" x2="675.7" y2="354.1" stroke="#303030" stroke-width="1.15" />
<polyline points="675.7,349.1 680.7,349.1 680.7,354.1" fill="none" stroke="#303030" stroke-width="0.8" stroke-linejoin="miter"/>
<circle cx="678.20" cy="351.60" r="0.6" fill="#303030"/>
<text x="675.7" y="295.42" font-family="Liberation Sans" font-size="7" font-weight="normal" font-style="normal" text-anchor="middle" fill="#2a2a2a" stroke="#2a2a2a" stroke-width="0.4">A</text>
<text x="648.6" y="324.42" font-family="Liberation Sans" font-size="7" font-weight="normal" font-style="normal" text-anchor="middle" fill="#2a2a2a" stroke="#2a2a2a" stroke-width="0.4">a+4</text>
<text x="683.3" y="330.52" font-family="Liberation Sans" font-size="7" font-weight="normal" font-style="normal" text-anchor="middle" fill="#2a2a2a" stroke="#2a2a2a" stroke-width="0.4">a+2</text>
<text x="713.9" y="323.72" font-family="Liberation Sans" font-size="7" font-weight="normal" font-style="normal" text-anchor="middle" fill="#2a2a2a" stroke="#2a2a2a" stroke-width="0.4">3a–1</text>
<text x="637.8" y="361.42" font-family="Liberation Sans" font-size="7" font-weight="normal" font-style="normal" text-anchor="middle" fill="#2a2a2a" stroke="#2a2a2a" stroke-width="0.4">B</text>
<text x="657.1" y="361.42" font-family="Liberation Sans" font-size="7" font-weight="normal" font-style="normal" text-anchor="middle" fill="#2a2a2a" stroke="#2a2a2a" stroke-width="0.4">a</text>
<text x="676.4" y="361.42" font-family="Liberation Sans" font-size="7" font-weight="normal" font-style="normal" text-anchor="middle" fill="#2a2a2a" stroke="#2a2a2a" stroke-width="0.4">D</text>
<text x="706.6" y="361.42" font-family="Liberation Sans" font-size="7" font-weight="normal" font-style="normal" text-anchor="middle" fill="#2a2a2a" stroke="#2a2a2a" stroke-width="0.4">x</text>
<text x="738.7" y="361.42" font-family="Liberation Sans" font-size="7" font-weight="normal" font-style="normal" text-anchor="middle" fill="#2a2a2a" stroke="#2a2a2a" stroke-width="0.4">C</text>
<text x="750" y="317.72" font-family="Liberation Sans" font-size="7" font-weight="normal" font-style="normal" text-anchor="start" fill="#2a2a2a" stroke="#2a2a2a" stroke-width="0.4">x = ?</text>
<text x="634.2" y="380.02" font-family="Liberation Sans" font-size="7" font-weight="normal" font-style="normal" text-anchor="start" fill="#2a2a2a" stroke="#2a2a2a" stroke-width="0.4">A) 8</text>
<text x="668" y="380.02" font-family="Liberation Sans" font-size="7" font-weight="normal" font-style="normal" text-anchor="start" fill="#2a2a2a" stroke="#2a2a2a" stroke-width="0.4">B) 10</text>
<text x="703" y="380.02" font-family="Liberation Sans" font-size="7" font-weight="normal" font-style="normal" text-anchor="start" fill="#2a2a2a" stroke="#2a2a2a" stroke-width="0.4">C) 12</text>
<text x="736.8" y="380.02" font-family="Liberation Sans" font-size="7" font-weight="normal" font-style="normal" text-anchor="start" fill="#2a2a2a" stroke="#2a2a2a" stroke-width="0.4">D) 13</text>
<text x="770.6" y="380.02" font-family="Liberation Sans" font-size="7" font-weight="normal" font-style="normal" text-anchor="start" fill="#2a2a2a" stroke="#2a2a2a" stroke-width="0.4">E) 15</text>
<text x="425.5" y="473.64" font-family="Liberation Sans" font-size="7.9" font-weight="bold" font-style="normal" text-anchor="start" fill="#2a2a2a" stroke="#2a2a2a" stroke-width="0.3">3.</text>
<polyline points="517.5,479 441.4,521.7 541.6,521.7 517.5,479" fill="none" stroke="#303030" stroke-width="1.15" stroke-linejoin="miter"/>
<polyline points="513.1395233461811,481.4466800672545 515.5971209940026,485.8010128291622 519.9575976478214,483.3543327619077" fill="none" stroke="#303030" stroke-width="0.8" stroke-linejoin="miter"/>
<circle cx="516.55" cy="482.40" r="0.6" fill="#303030"/>
<text x="516.8" y="476.72" font-family="Liberation Sans" font-size="7" font-weight="normal" font-style="normal" text-anchor="middle" fill="#2a2a2a" stroke="#2a2a2a" stroke-width="0.4">A</text>
<text x="441" y="529.82" font-family="Liberation Sans" font-size="7" font-weight="normal" font-style="normal" text-anchor="middle" fill="#2a2a2a" stroke="#2a2a2a" stroke-width="0.4">B</text>
<text x="542.9" y="529.32" font-family="Liberation Sans" font-size="7" font-weight="normal" font-style="normal" text-anchor="middle" fill="#2a2a2a" stroke="#2a2a2a" stroke-width="0.4">C</text>
<text x="481.3" y="496.52" font-family="Liberation Sans" font-size="7" font-weight="normal" font-style="normal" text-anchor="middle" fill="#2a2a2a" stroke="#2a2a2a" stroke-width="0.4">2<tspan font-size="4.5" dy="-2.5">x</tspan></text>
<text x="538" y="498.92" font-family="Liberation Sans" font-size="7" font-weight="normal" font-style="normal" text-anchor="middle" fill="#2a2a2a" stroke="#2a2a2a" stroke-width="0.4">2<tspan font-size="4.5" dy="-2.5">x</tspan><tspan dy="2.5" dx="0.5">–1</tspan></text>
<text x="490.9" y="530.32" font-family="Liberation Sans" font-size="7" font-weight="normal" font-style="normal" text-anchor="middle" fill="#2a2a2a" stroke="#2a2a2a" stroke-width="0.4">2<tspan font-size="4.5" dy="-2.5">x</tspan><tspan dy="2.5" dx="0.5">+1</tspan></text>
<text x="555" y="499.62" font-family="Liberation Sans" font-size="7" font-weight="normal" font-style="normal" text-anchor="start" fill="#2a2a2a" stroke="#2a2a2a" stroke-width="0.4">x = ?</text>
<text x="437.8" y="552.52" font-family="Liberation Sans" font-size="7" font-weight="normal" font-style="normal" text-anchor="start" fill="#2a2a2a" stroke="#2a2a2a" stroke-width="0.4">A) 1</text>
<text x="471.6" y="552.52" font-family="Liberation Sans" font-size="7" font-weight="normal" font-style="normal" text-anchor="start" fill="#2a2a2a" stroke="#2a2a2a" stroke-width="0.4">B) 2</text>
<text x="505.4" y="552.52" font-family="Liberation Sans" font-size="7" font-weight="normal" font-style="normal" text-anchor="start" fill="#2a2a2a" stroke="#2a2a2a" stroke-width="0.4">C) 3</text>
<text x="538.9" y="552.52" font-family="Liberation Sans" font-size="7" font-weight="normal" font-style="normal" text-anchor="start" fill="#2a2a2a" stroke="#2a2a2a" stroke-width="0.4">D) 4</text>
<text x="572.2" y="552.52" font-family="Liberation Sans" font-size="7" font-weight="normal" font-style="normal" text-anchor="start" fill="#2a2a2a" stroke="#2a2a2a" stroke-width="0.4">E) 5</text>
<text x="622.5" y="486.64" font-family="Liberation Sans" font-size="7.9" font-weight="bold" font-style="normal" text-anchor="start" fill="#2a2a2a" stroke="#2a2a2a" stroke-width="0.3">6.</text>
<polyline points="638.5,526.1 676.9,489.9 739.2,526.1 638.5,526.1" fill="none" stroke="#303030" stroke-width="1.15" stroke-linejoin="miter"/>
<line x1="676.9" y1="489.9" x2="676.9" y2="526.1" stroke="#303030" stroke-width="1.15" />
<polyline points="676.9,521.1 681.9,521.1 681.9,526.1" fill="none" stroke="#303030" stroke-width="0.8" stroke-linejoin="miter"/>
<circle cx="679.40" cy="523.60" r="0.6" fill="#303030"/>
<text x="676.9" y="488.22" font-family="Liberation Sans" font-size="7" font-weight="normal" font-style="normal" text-anchor="middle" fill="#2a2a2a" stroke="#2a2a2a" stroke-width="0.4">A</text>
<text x="653.5" y="505.62" font-family="Liberation Sans" font-size="7" font-weight="normal" font-style="normal" text-anchor="middle" fill="#2a2a2a" stroke="#2a2a2a" stroke-width="0.4">a+2</text>
<text x="684" y="510.52" font-family="Liberation Sans" font-size="7" font-weight="normal" font-style="normal" text-anchor="middle" fill="#2a2a2a" stroke="#2a2a2a" stroke-width="0.4">a–2</text>
<text x="710.2" y="506.82" font-family="Liberation Sans" font-size="7" font-weight="normal" font-style="normal" text-anchor="middle" fill="#2a2a2a" stroke="#2a2a2a" stroke-width="0.4">x</text>
<text x="638.5" y="533.42" font-family="Liberation Sans" font-size="7" font-weight="normal" font-style="normal" text-anchor="middle" fill="#2a2a2a" stroke="#2a2a2a" stroke-width="0.4">B</text>
<text x="657.6" y="533.42" font-family="Liberation Sans" font-size="7" font-weight="normal" font-style="normal" text-anchor="middle" fill="#2a2a2a" stroke="#2a2a2a" stroke-width="0.4">a</text>
<text x="677.6" y="533.42" font-family="Liberation Sans" font-size="7" font-weight="normal" font-style="normal" text-anchor="middle" fill="#2a2a2a" stroke="#2a2a2a" stroke-width="0.4">D</text>
<text x="707.8" y="532.72" font-family="Liberation Sans" font-size="7" font-weight="normal" font-style="normal" text-anchor="middle" fill="#2a2a2a" stroke="#2a2a2a" stroke-width="0.4">2a–4</text>
<text x="739.2" y="532.72" font-family="Liberation Sans" font-size="7" font-weight="normal" font-style="normal" text-anchor="middle" fill="#2a2a2a" stroke="#2a2a2a" stroke-width="0.4">C</text>
<text x="751.3" y="511.22" font-family="Liberation Sans" font-size="7" font-weight="normal" font-style="normal" text-anchor="start" fill="#2a2a2a" stroke="#2a2a2a" stroke-width="0.4">x = ?</text>
<text x="635.4" y="552.02" font-family="Liberation Sans" font-size="7" font-weight="normal" font-style="normal" text-anchor="start" fill="#2a2a2a" stroke="#2a2a2a" stroke-width="0.4">A) 13</text>
<text x="669.9" y="552.02" font-family="Liberation Sans" font-size="7" font-weight="normal" font-style="normal" text-anchor="start" fill="#2a2a2a" stroke="#2a2a2a" stroke-width="0.4">B) 15</text>
<text x="704.2" y="552.02" font-family="Liberation Sans" font-size="7" font-weight="normal" font-style="normal" text-anchor="start" fill="#2a2a2a" stroke="#2a2a2a" stroke-width="0.4">C) 5<tspan font-size="7.6">&#8730;</tspan><tspan text-decoration="overline">5</tspan></text>
<text x="738" y="552.02" font-family="Liberation Sans" font-size="7" font-weight="normal" font-style="normal" text-anchor="start" fill="#2a2a2a" stroke="#2a2a2a" stroke-width="0.4">D) 6<tspan font-size="7.6">&#8730;</tspan><tspan text-decoration="overline">5</tspan></text>
<text x="771.8" y="552.02" font-family="Liberation Sans" font-size="7" font-weight="normal" font-style="normal" text-anchor="start" fill="#2a2a2a" stroke="#2a2a2a" stroke-width="0.4">E) 8<tspan font-size="7.6">&#8730;</tspan><tspan text-decoration="overline">5</tspan></text>
<text x="214.6" y="585.60" font-family="Liberation Sans" font-size="8" font-weight="normal" font-style="normal" text-anchor="start" fill="#2a2a2a" stroke="#2a2a2a" stroke-width="0.4">94</text>
<text x="606.5" y="584.90" font-family="Liberation Sans" font-size="8" font-weight="normal" font-style="normal" text-anchor="start" fill="#2a2a2a" stroke="#2a2a2a" stroke-width="0.4">95</text>
</svg>
</body></html>
